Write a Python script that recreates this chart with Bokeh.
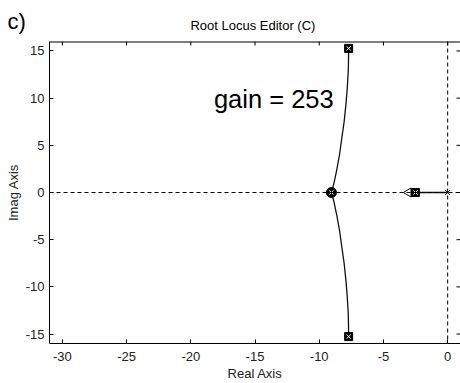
from bokeh.plotting import figure
from bokeh.models import Range1d, FixedTicker, Span, Label
from bokeh.embed import file_html
from bokeh.resources import INLINE
from bokeh.core.properties import value
import numpy as np

# ---- data ----
x_ticks = [-30, -25, -20, -15, -10, -5, 0]
y_ticks = [-15, -10, -5, 0, 5, 10, 15]
x_min, x_max = -31, 1.0
y_min, y_max = -16, 16

upper_x = [-7.71, -7.72, -7.74, -7.82, -7.92, -8.06, -8.23, -8.42, -8.64, -8.85, -9.05]
upper_y = [15.27, 14.0, 12.83, 11.0, 9.34, 7.5, 5.86, 4.0, 2.37, 1.0, 0.0]
lower_x = [-7.71, -7.72, -7.74, -7.82, -7.92, -8.06, -8.23, -8.42, -8.64, -8.85, -9.05]
lower_y = [-15.27, -14.0, -12.83, -11.0, -9.34, -7.5, -5.86, -4.0, -2.37, -1.0, 0.0]
real_x = [-2.51, 0.0]
real_y = [0.0, 0.0]

cl_pole_x = [-7.71, -7.71, -2.51]     # closed-loop poles (squares)
cl_pole_y = [15.27, -15.27, 0.0]
zero_x = [-9.05]                      # circle marker
zero_y = [0.0]
arrow_x = [-3.05]                     # left-pointing marker
arrow_y = [0.0]
ol_pole_x = [0.0]                     # open-loop pole (x)
ol_pole_y = [0.0]

gain_text = ["gain = 253"]
gain_x = [-18.2]
gain_y = [9.94]

title_text = "Root Locus Editor (C)"
panel_text = "c)"

FONT = "Liberation Sans"

p = figure(width=460, height=383, output_backend="svg", toolbar_location=None,
           x_range=Range1d(x_min, x_max), y_range=Range1d(y_min, y_max),
           min_border_left=49, min_border_right=0, min_border_top=41, min_border_bottom=36,
           x_axis_label="Real Axis", y_axis_label="Imag Axis", title=None)

p.background_fill_color = "white"
p.border_fill_color = "white"
p.outline_line_color = None
p.grid.visible = False

# title and panel label, both in the top border
p.add_layout(Label(x=203.4, y=16, x_units="screen", y_units="screen", text=title_text,
                   text_font=FONT, text_font_size="13px", text_color="black",
                   text_align="center", text_baseline="middle"), "above")
p.add_layout(Label(x=-42, y=5.5, x_units="screen", y_units="screen", text=panel_text,
                   text_font=FONT, text_font_size="22px", text_color="black",
                   text_align="left", text_baseline="middle"), "above")

for ax, ticks in ((p.xaxis[0], x_ticks), (p.yaxis[0], y_ticks)):
    ax.ticker = FixedTicker(ticks=ticks)
    ax.major_label_overrides = {t: str(t) for t in ticks}
    ax.major_tick_in = 4
    ax.major_tick_out = 0
    ax.minor_tick_line_color = None
    ax.axis_line_color = "black"
    ax.major_tick_line_color = "black"
    ax.major_label_text_font = FONT
    ax.major_label_text_font_size = "13px"
    ax.major_label_text_color = "#222222"
    ax.axis_label_text_font = FONT
    ax.axis_label_text_font_size = "13px"
    ax.axis_label_text_font_style = "normal"
    ax.axis_label_text_color = "#222222"
p.xaxis[0].major_label_standoff = 8
p.xaxis[0].axis_label_standoff = 2
p.yaxis[0].major_label_standoff = 5
p.yaxis[0].axis_label_standoff = 2

# top frame edge with inward ticks, inward ticks on the right edge
p.add_layout(Span(location=y_max, dimension="width", line_color="black", line_width=2))
p.ray(x=x_ticks, y=[y_max] * len(x_ticks), length=4, length_units="screen",
      angle=-np.pi / 2, line_color="black", line_width=1)
p.ray(x=[x_max] * len(y_ticks), y=y_ticks, length=4, length_units="screen",
      angle=np.pi, line_color="black", line_width=1)

# zero lines
p.add_layout(Span(location=0, dimension="width", line_color="black", line_width=1, line_dash="4 3"))
p.add_layout(Span(location=0, dimension="height", line_color="black", line_width=1, line_dash="4 3"))

# locus branches
p.line(upper_x, upper_y, line_color="#111111", line_width=1.3)
p.line(lower_x, lower_y, line_color="#111111", line_width=1.3)
p.line(real_x, real_y, line_color="#111111", line_width=1.5)

# markers
p.scatter(arrow_x, arrow_y, marker="triangle", angle=np.pi / 2, size=9,
          fill_color="white", line_color="black", line_width=1)
p.scatter(cl_pole_x, cl_pole_y, marker="square", size=8, fill_color="black", line_color="black")
p.scatter(cl_pole_x, cl_pole_y, marker="x", size=6, line_color="white", line_width=1)
p.scatter(zero_x, zero_y, marker="circle", size=10, fill_color="black", line_color="black")
p.scatter(zero_x, zero_y, marker="x", size=6, line_color="white", line_width=1)
p.scatter(ol_pole_x, ol_pole_y, marker="x", size=7, line_color="black", line_width=1)

# annotation text
p.text(x=gain_x, y=gain_y, text=gain_text, text_font=value(FONT), text_font_size="25.5px",
       text_color="black", text_align="left", text_baseline="middle")

open("out.html", "w").write(file_html(p, INLINE))
